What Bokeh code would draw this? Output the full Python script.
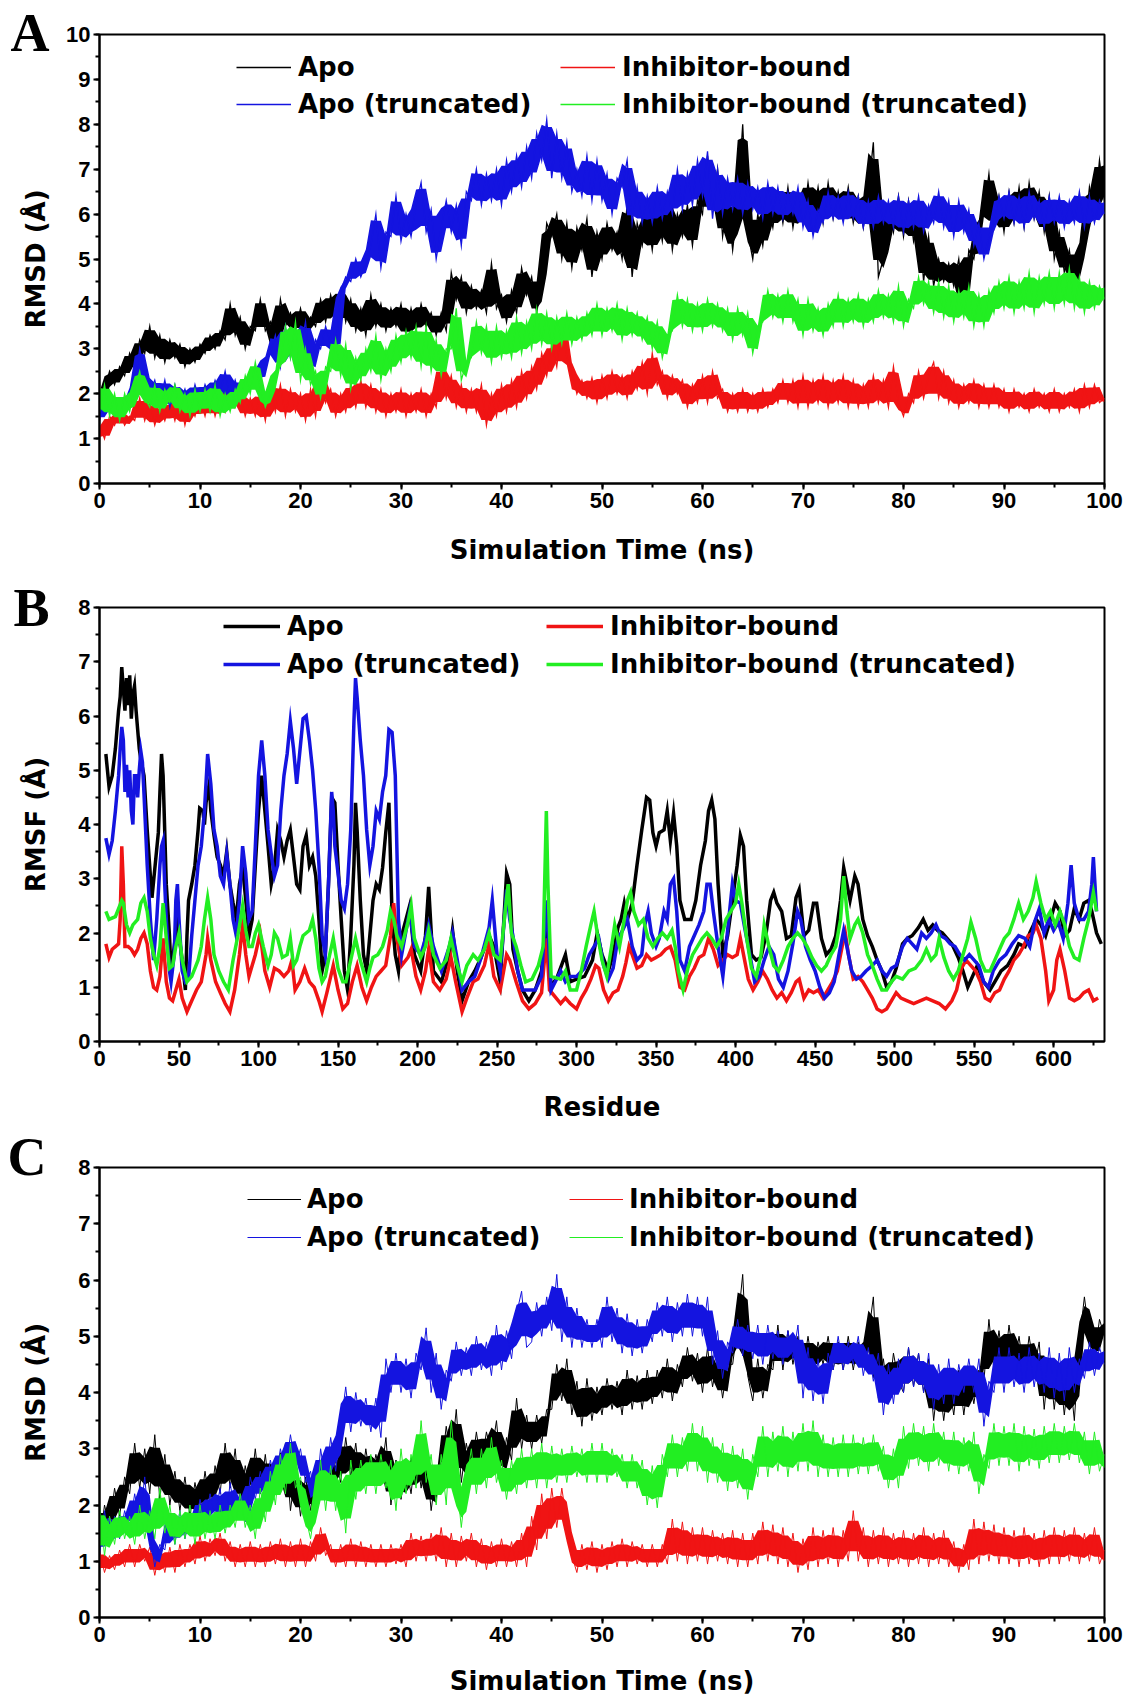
import math
import numpy as np
from bokeh.plotting import figure
from bokeh.models import Range1d, SingleIntervalTicker, Legend, LegendItem
from bokeh.core.properties import value
from bokeh.layouts import column, row
from bokeh.embed import file_html
from bokeh.resources import INLINE

# ---------------- data ----------------
time_ns = [0.5 * i for i in range(201)]

# Panel A : RMSD (all atoms)
rmsd_a_apo = [
    1.6, 2.1, 2.5, 2.2, 2.6, 2.4, 2.9, 2.6, 3.2, 2.9,
    3.5, 2.8, 3.3, 2.7, 3.2, 2.8, 3.1, 2.6, 3.0, 2.7,
    3.1, 2.9, 3.3, 3.0, 3.4, 3.2, 4.0, 3.3, 3.7, 3.0,
    3.5, 3.4, 4.1, 3.4, 3.6, 3.0, 4.1, 3.5, 3.8, 3.4,
    3.9, 3.4, 3.7, 3.5, 4.1, 3.6, 4.2, 3.7, 4.3, 3.6,
    4.1, 3.4, 3.9, 3.3, 4.2, 3.5, 4.0, 3.4, 3.9, 3.5,
    4.0, 3.3, 3.9, 3.4, 4.0, 3.5, 3.8, 3.3, 3.8, 3.4,
    4.7, 4.1, 4.6, 3.8, 4.4, 3.9, 4.3, 3.8, 4.9, 3.9,
    4.2, 3.6, 4.3, 3.8, 4.8, 4.2, 4.6, 3.8, 4.5, 5.8,
    5.5, 6.0, 5.0, 5.8, 4.8, 5.7, 5.2, 5.9, 4.6, 5.6,
    5.0, 5.8, 5.2, 5.6, 5.0, 6.2, 4.6, 5.8, 5.3, 6.0,
    5.2, 6.1, 5.4, 6.3, 5.2, 6.0, 5.5, 6.2, 5.3, 6.3,
    6.0, 7.3, 6.2, 7.0, 5.5, 6.3, 5.2, 6.2, 8.0, 5.6,
    5.0, 6.0, 5.3, 6.2, 5.7, 6.5, 5.8, 6.6, 5.7, 6.4,
    5.8, 6.7, 5.9, 6.6, 5.8, 6.7, 5.9, 6.5, 5.9, 6.6,
    5.8, 6.4, 5.7, 6.5, 7.6, 4.6, 5.0, 6.2, 5.6, 6.4,
    5.5, 6.3, 5.4, 6.0, 4.5, 5.5, 4.4, 5.0, 4.5, 4.9,
    4.4, 5.0, 3.9, 5.2, 5.0, 5.8, 6.0, 6.9, 5.7, 6.4,
    5.6, 6.5, 5.8, 6.6, 5.7, 6.7, 5.9, 6.5, 5.6, 6.4,
    5.0, 5.6, 4.7, 5.2, 4.4, 4.8, 5.5, 6.6, 6.0, 7.2,
    6.3]
rmsd_a_inh = [
    1.3, 1.0, 1.5, 1.3, 1.6, 1.3, 1.5, 1.4, 1.9, 1.4,
    1.8, 1.3, 1.7, 1.4, 1.8, 1.4, 1.9, 1.3, 1.8, 1.5,
    1.9, 1.5, 2.0, 1.5, 1.9, 1.6, 2.3, 1.7, 2.0, 1.5,
    1.9, 1.5, 2.0, 1.4, 2.1, 1.6, 2.2, 1.5, 2.1, 1.6,
    2.0, 1.4, 2.1, 1.5, 2.4, 1.8, 2.1, 1.5, 2.0, 1.6,
    2.2, 1.7, 2.3, 1.7, 2.2, 1.6, 2.1, 1.5, 2.0, 1.6,
    2.1, 1.5, 2.0, 1.6, 2.1, 1.5, 2.0, 1.7, 2.6, 1.9,
    2.4, 1.7, 2.2, 1.6, 2.1, 1.6, 2.2, 1.3, 2.0, 1.5,
    2.2, 1.6, 2.3, 1.7, 2.5, 1.9, 2.6, 2.1, 2.9, 2.4,
    3.1, 2.6, 3.6, 2.8, 2.5, 2.0, 2.3, 1.9, 2.35, 1.8,
    2.4, 1.9, 2.5, 2.0, 2.4, 1.9, 2.5, 2.1, 2.7, 2.0,
    2.9, 2.2, 2.5, 1.9, 2.4, 2.0, 2.3, 1.7, 2.2, 1.8,
    2.4, 1.8, 2.5, 1.9, 2.1, 1.6, 2.0, 1.6, 2.1, 1.6,
    2.0, 1.6, 2.1, 1.7, 2.1, 1.8, 2.3, 1.8, 2.3, 1.7,
    2.4, 1.7, 2.3, 1.8, 2.4, 1.7, 2.3, 1.8, 2.4, 1.7,
    2.3, 1.7, 2.2, 1.7, 2.4, 1.8, 2.3, 1.7, 2.6, 1.8,
    1.5, 2.0, 1.8, 2.5, 1.9, 2.4, 2.7, 1.9, 2.5, 1.8,
    2.3, 1.7, 2.2, 1.8, 2.3, 1.7, 2.2, 1.7, 2.2, 1.7,
    2.1, 1.6, 2.1, 1.7, 2.0, 1.6, 2.1, 1.7, 2.0, 1.6,
    2.1, 1.6, 2.0, 1.7, 2.1, 1.6, 2.2, 1.7, 2.2, 1.8,
    1.9]
rmsd_a_apo_t = [
    1.4, 2.0, 1.6, 1.9, 1.5, 1.9, 1.7, 2.2, 3.0, 2.4,
    2.0, 2.3, 1.8, 2.3, 1.7, 2.2, 1.8, 2.1, 1.7, 2.2,
    1.8, 2.2, 1.9, 2.3, 2.0, 2.5, 1.9, 2.3, 1.9, 2.2,
    2.1, 2.6, 2.3, 2.8, 2.9, 3.3, 2.6, 3.5, 2.8, 3.4,
    3.0, 3.6, 2.5, 3.2, 3.0, 3.5, 3.1, 2.9, 4.3, 4.6,
    4.5, 5.0, 4.6, 4.9, 5.3, 6.0, 4.8, 5.6, 5.5, 6.4,
    5.4, 6.0, 5.5, 6.2, 6.7, 5.6, 6.1, 5.0, 5.7, 6.3,
    5.6, 6.2, 5.3, 6.5, 6.3, 7.0, 6.2, 6.9, 6.3, 7.0,
    6.2, 7.2, 6.5, 7.3, 6.6, 7.5, 6.8, 7.8, 7.2, 8.1,
    6.8, 7.8, 6.8, 7.6, 6.5, 7.0, 6.4, 7.3, 6.3, 7.2,
    6.3, 6.9, 6.0, 6.8, 6.6, 7.2, 5.8, 6.6, 5.8, 6.4,
    5.8, 6.6, 5.9, 6.5, 6.0, 7.0, 6.1, 6.9, 6.2, 7.2,
    6.4, 7.4, 5.9, 7.0, 6.0, 6.8, 6.1, 6.8, 6.0, 6.7,
    6.1, 6.6, 5.9, 6.7, 6.0, 6.6, 5.9, 6.5, 6.0, 6.6,
    5.7, 6.3, 5.5, 6.1, 5.8, 6.5, 5.9, 6.4, 5.8, 6.5,
    5.9, 6.4, 5.7, 6.3, 5.7, 6.4, 5.8, 6.3, 5.7, 6.4,
    5.6, 6.3, 5.7, 6.4, 5.6, 6.2, 5.8, 6.5, 5.7, 6.3,
    5.5, 6.3, 5.6, 6.1, 5.3, 5.8, 5.0, 5.5, 5.8, 6.4,
    5.9, 6.5, 5.8, 6.4, 5.7, 6.5, 5.9, 6.3, 5.7, 6.4,
    5.8, 6.4, 5.7, 6.3, 5.8, 6.5, 5.7, 6.4, 5.8, 6.3,
    6.0]
rmsd_a_inh_t = [
    1.6, 2.2, 1.5, 2.0, 1.4, 2.0, 1.6, 2.1, 2.5, 1.9,
    1.7, 2.2, 1.6, 2.1, 1.8, 2.2, 1.6, 2.0, 1.5, 2.1,
    1.6, 2.1, 1.6, 2.2, 1.5, 2.0, 1.6, 2.1, 1.8, 2.4,
    2.0, 2.7, 2.1, 1.7, 2.0, 2.5, 2.6, 3.5, 2.8, 3.6,
    2.3, 3.0, 2.2, 2.5, 1.9, 2.6, 2.5, 3.2, 2.4, 3.1,
    2.1, 2.8, 2.3, 3.0, 2.5, 3.3, 2.3, 3.0, 2.5, 3.3,
    2.7, 3.4, 2.8, 3.5, 2.6, 3.5, 2.5, 3.2, 2.4, 3.0,
    3.0, 3.9, 2.3, 2.7, 2.8, 3.6, 2.9, 3.5, 2.7, 3.5,
    2.8, 3.4, 2.8, 3.7, 2.9, 3.6, 3.0, 3.9, 3.1, 3.8,
    3.0, 3.7, 3.1, 3.8, 3.1, 3.7, 3.2, 3.8, 3.3, 4.0,
    3.3, 3.9, 3.4, 4.0, 3.2, 3.9, 3.3, 3.8, 3.2, 3.7,
    3.0, 3.6, 2.8, 3.3, 3.4, 4.2, 3.5, 4.1, 3.4, 4.0,
    3.4, 4.1, 3.5, 4.0, 3.4, 3.9, 3.2, 3.9, 3.3, 3.8,
    2.9, 3.5, 3.6, 4.3, 3.7, 4.2, 3.6, 4.3, 3.6, 4.1,
    3.3, 4.1, 3.4, 3.9, 3.3, 4.0, 3.5, 4.2, 3.5, 4.1,
    3.6, 4.2, 3.5, 4.1, 3.6, 4.3, 3.7, 4.2, 3.6, 4.4,
    3.5, 4.1, 3.9, 4.6, 4.0, 4.5, 3.8, 4.5, 3.7, 4.4,
    3.6, 4.3, 3.7, 4.4, 3.5, 4.2, 3.5, 4.3, 3.8, 4.5,
    3.9, 4.6, 3.8, 4.5, 3.9, 4.7, 3.8, 4.6, 4.0, 4.7,
    3.9, 4.7, 4.0, 4.8, 3.9, 4.6, 3.8, 4.5, 3.9, 4.4,
    4.1]

# Panel C : RMSD (C-alpha)
rmsd_c_apo = [
    1.3, 2.0, 1.6, 2.3, 1.8, 2.5, 2.2, 3.1, 2.3, 3.0,
    2.2, 3.25, 2.1, 2.9, 2.0, 2.6, 1.9, 2.5, 1.8, 2.4,
    1.9, 2.6, 2.0, 2.7, 2.2, 3.1, 2.3, 3.0, 2.0, 2.7,
    2.2, 3.0, 2.2, 2.9, 2.1, 2.8, 2.3, 3.1, 1.9, 2.6,
    1.8, 2.5, 1.9, 2.5, 2.2, 2.9, 2.3, 2.8, 2.4, 3.2,
    2.5, 3.1, 2.3, 3.0, 2.4, 2.9, 2.5, 3.2, 2.0, 2.8,
    2.1, 2.7, 2.2, 3.0, 2.3, 2.9, 1.9, 2.6, 2.6, 3.4,
    2.8, 3.7, 2.4, 3.1, 2.6, 3.3, 2.7, 3.3, 2.9, 3.5,
    2.5, 3.2, 2.8, 3.9, 3.0, 3.6, 3.0, 3.6, 3.1, 3.7,
    3.7, 4.5, 3.85, 4.6, 3.6, 4.2, 3.4, 4.25, 3.5, 4.1,
    3.6, 4.25, 3.7, 4.2, 3.6, 4.4, 3.7, 4.3, 3.7, 4.4,
    3.8, 4.4, 3.9, 4.6, 3.85, 4.5, 4.1, 4.8, 4.2, 4.7,
    4.0, 4.8, 4.1, 4.6, 3.9, 4.5, 4.5, 5.2, 6.1, 4.3,
    3.85, 4.6, 3.9, 4.5, 4.4, 5.2, 4.4, 5.1, 4.5, 5.0,
    4.4, 5.0, 4.4, 4.9, 4.5, 5.0, 4.4, 4.9, 4.4, 5.0,
    4.4, 4.9, 4.5, 5.0, 5.7, 3.9, 4.6, 3.9, 4.7, 4.2,
    4.0, 4.8, 4.1, 4.7, 4.0, 4.6, 3.5, 4.3, 3.5, 4.2,
    3.6, 4.4, 3.6, 4.3, 3.8, 4.4, 4.2, 5.3, 4.4, 5.1,
    4.4, 5.2, 4.5, 5.0, 4.3, 5.0, 4.4, 4.9, 3.7, 4.6,
    3.7, 4.5, 3.6, 4.4, 3.5, 4.9, 5.7, 5.0, 4.6, 5.3,
    5.0]
rmsd_c_inh = [
    1.2, 0.8, 1.1, 0.85, 1.2, 0.9, 1.3, 0.9, 1.3, 1.0,
    1.25, 0.75, 1.2, 0.8, 1.25, 0.8, 1.3, 0.9, 1.3, 0.95,
    1.45, 1.0, 1.4, 1.1, 1.5, 1.0, 1.35, 0.9, 1.3, 0.9,
    1.35, 0.9, 1.3, 0.9, 1.35, 0.95, 1.4, 0.9, 1.35, 0.9,
    1.4, 0.9, 1.35, 1.0, 1.6, 1.1, 1.3, 0.9, 1.3, 0.9,
    1.4, 0.9, 1.35, 0.9, 1.3, 0.9, 1.3, 0.9, 1.3, 0.95,
    1.3, 0.9, 1.5, 1.0, 1.45, 1.0, 1.5, 1.0, 1.6, 0.9,
    1.5, 0.9, 1.45, 1.0, 1.5, 0.9, 1.4, 0.85, 1.35, 0.9,
    1.4, 0.9, 1.35, 0.9, 1.5, 0.9, 1.8, 1.2, 2.2, 1.4,
    2.3, 1.6, 2.3, 1.7, 1.1, 0.8, 1.3, 0.85, 1.35, 0.8,
    1.3, 0.85, 1.35, 0.9, 1.4, 0.9, 1.35, 0.95, 1.3, 0.9,
    1.3, 0.9, 1.3, 0.95, 1.75, 1.0, 1.7, 0.95, 1.6, 1.0,
    1.6, 0.95, 1.55, 1.0, 1.5, 0.95, 1.55, 0.9, 1.5, 0.9,
    1.5, 0.95, 1.7, 1.0, 1.65, 0.95, 1.6, 0.9, 1.5, 0.8,
    1.4, 0.85, 1.6, 0.9, 1.55, 0.95, 1.6, 0.9, 1.55, 1.0,
    1.9, 1.0, 1.6, 0.9, 1.55, 0.95, 1.6, 0.9, 1.5, 0.95,
    1.55, 0.9, 1.5, 0.95, 1.6, 0.9, 1.5, 0.95, 1.55, 0.9,
    1.35, 0.8, 1.3, 0.85, 1.75, 0.95, 1.7, 1.0, 1.65, 0.95,
    1.6, 0.95, 1.55, 0.9, 1.6, 0.95, 1.5, 0.9, 1.55, 0.95,
    1.6, 0.95, 1.55, 1.0, 1.6, 0.95, 1.5, 1.0, 1.6, 0.95,
    1.2]
rmsd_c_apo_t = [
    1.1, 1.9, 1.3, 1.8, 1.4, 1.9, 1.6, 2.2, 1.7, 2.5,
    1.5, 0.9, 1.3, 1.2, 1.8, 1.3, 1.9, 1.4, 1.8, 1.6,
    2.1, 1.7, 2.2, 1.8, 2.3, 1.6, 2.4, 1.8, 2.2, 1.7,
    2.5, 2.1, 2.6, 2.2, 2.8, 2.4, 3.0, 2.6, 3.25, 2.7,
    3.0, 2.4, 2.6, 2.0, 3.0, 2.4, 3.2, 2.6, 3.4, 4.1,
    3.3, 4.0, 3.4, 3.9, 3.3, 3.9, 3.2, 4.6, 4.0, 4.7,
    4.0, 4.6, 3.9, 4.7, 4.4, 5.15, 4.0, 4.7, 3.7, 4.4,
    4.2, 4.9, 4.3, 4.8, 4.3, 5.0, 4.4, 4.9, 4.3, 5.2,
    4.4, 5.1, 4.6, 5.4, 5.8, 4.8, 4.9, 5.6, 5.0, 5.7,
    5.1, 6.1, 4.9, 5.7, 4.8, 5.5, 4.8, 5.3, 4.8, 5.3,
    4.8, 5.7, 4.9, 5.5, 4.7, 5.4, 4.65, 5.3, 4.7, 5.3,
    4.9, 5.6, 5.0, 5.7, 4.9, 5.6, 5.0, 5.75, 5.0, 5.7,
    5.0, 5.7, 4.5, 5.1, 4.25, 4.9, 4.7, 5.3, 4.65, 5.2,
    4.6, 5.2, 4.5, 5.2, 4.6, 5.1, 4.5, 5.1, 4.6, 5.2,
    3.9, 4.8, 3.85, 4.6, 3.8, 4.7, 4.4, 5.0, 4.4, 4.9,
    4.5, 5.0, 4.3, 4.8, 4.2, 4.7, 3.6, 4.5, 3.8, 4.6,
    4.0, 4.8, 4.1, 4.7, 4.0, 4.7, 3.7, 4.5, 3.8, 4.6,
    3.8, 4.5, 4.0, 4.6, 4.0, 4.6, 3.4, 4.2, 4.0, 4.8,
    4.0, 4.8, 4.1, 4.7, 4.0, 4.8, 4.1, 4.7, 4.0, 4.8,
    3.9, 4.7, 3.85, 4.8, 4.0, 4.6, 4.25, 4.9, 4.3, 4.8,
    4.5]
rmsd_c_inh_t = [
    2.0, 1.1, 1.8, 1.3, 1.9, 1.4, 1.8, 1.3, 2.0, 1.4,
    1.9, 1.4, 2.3, 1.5, 2.0, 1.3, 1.9, 1.4, 2.0, 1.3,
    2.0, 1.4, 1.9, 1.4, 2.0, 1.5, 2.0, 1.6, 2.2, 1.6,
    2.0, 1.4, 2.3, 1.7, 2.6, 2.0, 2.9, 2.2, 3.1, 2.3,
    2.5, 1.8, 1.4, 2.0, 2.8, 1.9, 2.7, 1.9, 2.6, 1.5,
    2.8, 2.1, 2.8, 2.2, 2.9, 2.2, 2.9, 2.3, 2.8, 1.9,
    3.0, 2.2, 2.9, 2.3, 3.5, 2.4, 2.9, 2.0, 2.9, 2.0,
    3.5, 2.5, 1.6, 2.4, 3.0, 2.2, 3.0, 2.3, 3.2, 2.4,
    2.8, 2.1, 2.8, 2.2, 3.0, 2.3, 3.0, 2.3, 3.1, 2.3,
    3.05, 2.4, 3.0, 2.4, 3.05, 2.5, 3.0, 2.4, 3.1, 2.4,
    3.1, 2.4, 3.0, 2.5, 2.9, 2.3, 2.9, 2.3, 2.8, 2.0,
    2.7, 1.95, 2.9, 2.5, 3.25, 2.5, 3.2, 2.6, 3.45, 2.6,
    3.4, 2.4, 3.2, 2.4, 3.1, 2.25, 3.05, 2.3, 3.0, 2.1,
    2.9, 2.5, 3.4, 2.5, 3.3, 2.6, 3.4, 2.5, 3.3, 2.6,
    3.45, 2.6, 3.5, 2.5, 3.25, 2.5, 3.2, 2.5, 3.25, 2.5,
    3.25, 2.55, 3.2, 2.55, 3.25, 2.6, 3.05, 2.3, 3.0, 2.3,
    3.4, 2.65, 3.45, 2.7, 3.4, 2.6, 3.45, 2.7, 3.3, 2.6,
    3.3, 2.55, 3.2, 2.6, 3.3, 2.2, 2.9, 2.65, 3.45, 2.7,
    3.4, 2.7, 3.45, 2.6, 3.4, 2.7, 3.35, 2.65, 3.4, 2.75,
    3.45, 2.75, 3.4, 2.8, 3.45, 2.75, 3.3, 2.55, 3.3, 2.6,
    2.9]

# Panel B : RMSF per residue, (residue, value) pairs
rmsf_apo = [
    (4, 5.3), (6, 4.7), (8, 4.9), (10, 5.4), (12, 6.1), (13, 6.35), (14, 6.9), (15, 6.5),
    (16, 6.1), (17, 6.7), (18, 6.2), (19, 6.75), (20, 5.95), (21, 6.4), (22, 6.55), (23, 6.1),
    (24, 5.75), (25, 5.4), (26, 5.2), (28, 4.9), (30, 3.9), (32, 3.05), (33, 2.65), (35, 3.25),
    (37, 3.85), (38, 4.6), (39, 5.3), (40, 4.9), (41, 3.9), (42, 2.9), (44, 1.95), (45, 1.3),
    (47, 1.75), (49, 2.25), (50, 1.95), (52, 1.5), (54, 0.95), (55, 1.95), (56, 2.6), (58, 2.9),
    (60, 3.25), (62, 3.9), (63, 4.3), (65, 4.25), (66, 4.0), (67, 4.4), (69, 4.75), (70, 4.25),
    (72, 3.8), (74, 3.4), (76, 3.25), (78, 3.05), (80, 3.5), (82, 2.9), (84, 2.55), (86, 2.25),
    (88, 2.9), (90, 3.2), (92, 2.6), (94, 1.95), (96, 2.25), (98, 3.25), (100, 4.25), (102, 4.9),
    (104, 4.25), (106, 3.6), (108, 2.9), (110, 3.2), (112, 3.9), (114, 3.7), (116, 3.4), (118, 3.7),
    (120, 3.9), (122, 3.4), (124, 2.9), (126, 2.8), (128, 3.6), (130, 3.8), (132, 3.25), (134, 3.4),
    (136, 3.05), (138, 2.25), (140, 1.3), (142, 1.6), (144, 2.9), (146, 4.5), (148, 4.4), (150, 3.25),
    (152, 2.25), (154, 1.3), (156, 0.95), (158, 1.95), (160, 3.25), (161, 4.4), (162, 3.9), (164, 2.6),
    (166, 1.6), (168, 1.3), (170, 1.95), (172, 2.6), (174, 2.9), (176, 2.8), (178, 3.2), (180, 3.85),
    (182, 4.4), (184, 2.3), (186, 1.6), (188, 1.3), (190, 1.95), (195, 2.5), (198, 1.6), (202, 1.3),
    (205, 1.95), (207, 2.85), (210, 1.3), (215, 1.1), (220, 1.6), (222, 2.05), (225, 1.3), (228, 0.75),
    (232, 1.1), (236, 1.3), (240, 1.55), (245, 1.95), (248, 1.75), (252, 1.1), (256, 3.1), (258, 2.9),
    (260, 1.7), (263, 1.3), (266, 0.95), (270, 0.75), (274, 0.95), (278, 1.3), (281, 2.3), (284, 1.0),
    (288, 1.2), (293, 1.6), (296, 1.1), (300, 1.15), (305, 1.2), (310, 1.5), (313, 2.0), (316, 1.6),
    (320, 1.3), (323, 1.6), (326, 2.1), (328, 2.25), (330, 2.55), (332, 2.25), (335, 2.55), (338, 3.25),
    (341, 3.9), (344, 4.5), (346, 4.45), (348, 3.85), (350, 3.6), (352, 3.85), (355, 3.9), (357, 4.25),
    (359, 3.7), (361, 4.2), (363, 3.6), (365, 2.6), (368, 2.25), (372, 2.25), (375, 2.6), (378, 3.25),
    (381, 3.7), (383, 4.25), (385, 4.45), (387, 4.1), (389, 2.9), (392, 1.6), (395, 1.95), (398, 2.6),
    (401, 3.25), (403, 3.8), (405, 3.6), (407, 2.6), (410, 1.6), (413, 1.5), (416, 1.55), (419, 1.95),
    (422, 2.6), (424, 2.75), (426, 2.55), (429, 2.4), (432, 1.9), (435, 1.95), (438, 2.65), (440, 2.8),
    (443, 1.95), (446, 2.05), (449, 2.55), (451, 2.55), (454, 1.9), (457, 1.6), (460, 1.7), (463, 1.95),
    (466, 2.6), (468, 3.2), (470, 2.9), (472, 2.6), (475, 3.05), (477, 2.9), (480, 2.25), (483, 1.95),
    (486, 1.75), (489, 1.5), (492, 1.3), (495, 1.0), (498, 1.1), (501, 1.35), (505, 1.8), (508, 1.9),
    (511, 1.95), (515, 2.1), (518, 2.25), (521, 2.05), (524, 2.15), (527, 2.05), (530, 2.0), (533, 1.9),
    (536, 1.8), (540, 1.55), (543, 1.3), (546, 1.0), (549, 1.2), (552, 1.4), (556, 1.1), (560, 0.95),
    (563, 1.1), (567, 1.3), (571, 1.4), (575, 1.6), (578, 1.8), (582, 1.75), (585, 2.0), (589, 2.25),
    (592, 2.15), (595, 1.95), (598, 2.25), (601, 2.55), (604, 2.4), (607, 1.95), (610, 2.05), (613, 2.45),
    (616, 2.25), (619, 2.55), (622, 2.6), (624, 2.4), (627, 2.0), (630, 1.8)]
rmsf_inh = [
    (4, 1.8), (6, 1.55), (8, 1.7), (10, 1.75), (12, 1.8), (13, 2.25), (14, 3.6), (15, 2.9),
    (16, 1.75), (18, 1.75), (20, 1.7), (22, 1.6), (24, 1.7), (26, 1.9), (28, 2.0), (30, 1.8),
    (32, 1.3), (34, 1.0), (36, 0.95), (38, 1.2), (40, 1.9), (42, 1.1), (44, 0.8), (46, 0.75),
    (48, 0.95), (50, 1.15), (52, 0.8), (55, 0.55), (58, 0.75), (61, 0.95), (64, 1.1), (67, 1.6),
    (68, 1.9), (70, 1.5), (73, 1.1), (76, 0.9), (79, 0.7), (82, 0.55), (85, 0.95), (88, 1.6),
    (90, 2.15), (92, 1.6), (94, 1.2), (96, 1.4), (98, 1.6), (101, 2.0), (104, 1.3), (107, 1.0),
    (110, 1.35), (113, 1.3), (116, 1.2), (119, 1.3), (121, 1.5), (123, 0.95), (126, 1.1), (129, 1.35),
    (132, 1.1), (135, 1.0), (138, 0.75), (140, 0.55), (143, 0.9), (147, 1.4), (150, 0.95), (153, 0.6),
    (156, 0.7), (159, 1.1), (162, 1.4), (165, 1.0), (168, 0.75), (171, 1.0), (174, 1.2), (177, 1.3),
    (180, 1.4), (183, 1.95), (185, 2.55), (187, 1.9), (190, 1.4), (194, 1.55), (196, 1.7), (199, 1.2),
    (202, 0.95), (205, 1.3), (207, 1.7), (210, 1.1), (214, 0.95), (218, 1.15), (221, 1.55), (224, 1.1),
    (228, 0.55), (231, 0.8), (235, 1.1), (238, 1.15), (242, 1.4), (245, 1.8), (248, 1.2), (252, 0.95),
    (256, 1.6), (258, 1.5), (262, 1.1), (266, 0.75), (270, 0.6), (274, 0.7), (278, 0.9), (281, 1.9),
    (283, 0.95), (290, 0.7), (293, 0.8), (296, 0.7), (300, 0.6), (303, 0.8), (306, 0.95), (309, 1.15),
    (312, 1.4), (314, 1.35), (317, 0.95), (320, 0.75), (323, 0.9), (326, 0.95), (329, 1.2), (331, 1.45),
    (333, 1.75), (335, 1.6), (338, 1.35), (341, 1.4), (344, 1.6), (347, 1.5), (350, 1.55), (353, 1.6),
    (356, 1.7), (359, 1.75), (362, 1.5), (365, 1.0), (368, 0.95), (371, 1.2), (374, 1.35), (377, 1.55),
    (380, 1.6), (383, 1.9), (386, 1.7), (389, 1.4), (392, 1.5), (395, 1.6), (398, 1.55), (401, 1.6),
    (403, 1.9), (405, 1.6), (408, 1.15), (411, 0.95), (414, 1.1), (417, 1.3), (420, 1.15), (423, 0.95),
    (426, 0.8), (429, 0.9), (432, 0.75), (435, 0.9), (438, 1.1), (440, 1.15), (443, 0.8), (446, 0.95),
    (449, 0.9), (452, 0.95), (455, 0.8), (458, 0.95), (461, 1.1), (464, 1.3), (467, 1.75), (469, 2.0),
    (471, 1.6), (474, 1.15), (477, 1.2), (480, 1.1), (483, 0.95), (486, 0.8), (489, 0.6), (492, 0.55),
    (495, 0.6), (498, 0.75), (501, 0.9), (504, 0.8), (508, 0.75), (512, 0.7), (516, 0.75), (520, 0.8),
    (524, 0.75), (528, 0.7), (532, 0.6), (536, 0.75), (539, 0.95), (542, 1.35), (545, 1.5), (548, 1.4),
    (551, 1.3), (554, 1.1), (557, 0.8), (560, 0.75), (563, 0.9), (566, 0.95), (569, 1.15), (572, 1.3),
    (575, 1.5), (578, 1.6), (581, 1.75), (584, 1.95), (587, 2.0), (589, 2.15), (592, 1.9), (595, 1.3),
    (597, 0.75), (600, 0.95), (602, 1.5), (604, 1.7), (607, 1.3), (610, 0.8), (613, 0.75), (616, 0.8),
    (619, 0.9), (622, 0.95), (625, 0.75), (628, 0.8)]
rmsf_apo_t = [
    (4, 3.75), (6, 3.45), (8, 3.7), (10, 4.25), (12, 4.9), (13, 5.4), (14, 5.8), (15, 5.55),
    (16, 4.6), (17, 5.1), (18, 4.5), (19, 5.0), (20, 4.25), (21, 4.0), (22, 4.9), (23, 4.9),
    (24, 4.5), (25, 5.0), (26, 5.35), (27, 5.15), (28, 4.55), (30, 3.25), (32, 2.25), (34, 1.5),
    (36, 2.25), (38, 3.25), (39, 3.6), (40, 3.7), (41, 2.9), (42, 2.25), (44, 1.3), (45, 1.1),
    (47, 1.6), (48, 2.6), (49, 2.9), (50, 2.25), (52, 1.3), (54, 1.1), (56, 1.15), (58, 1.95),
    (60, 2.6), (62, 3.25), (64, 3.6), (66, 4.25), (68, 5.3), (70, 4.75), (72, 3.9), (74, 3.6),
    (76, 3.05), (78, 2.9), (80, 3.45), (82, 2.9), (84, 2.25), (86, 1.95), (88, 2.6), (90, 3.6),
    (92, 3.1), (94, 2.25), (96, 2.4), (98, 3.6), (100, 4.9), (102, 5.55), (104, 4.9), (106, 3.9),
    (108, 3.45), (110, 3.05), (112, 3.25), (114, 4.25), (116, 4.9), (118, 5.3), (120, 5.9), (122, 5.4),
    (124, 4.75), (126, 5.35), (128, 5.95), (130, 6.0), (132, 5.55), (134, 5.0), (136, 4.25), (138, 3.25),
    (140, 1.95), (142, 1.6), (144, 2.9), (146, 4.6), (147, 4.25), (148, 3.6), (150, 3.1), (152, 2.6),
    (154, 2.45), (156, 2.9), (158, 3.9), (160, 5.9), (161, 6.7), (162, 6.35), (164, 5.55), (166, 4.9),
    (168, 3.9), (170, 3.25), (172, 3.6), (174, 4.25), (176, 4.1), (178, 4.6), (180, 4.9), (182, 5.75),
    (184, 5.7), (186, 4.9), (188, 2.25), (190, 1.6), (195, 2.4), (198, 1.75), (202, 1.6), (205, 1.9),
    (207, 2.15), (210, 1.75), (215, 1.3), (220, 1.75), (222, 2.0), (225, 1.5), (228, 0.95), (232, 1.1),
    (236, 1.2), (240, 1.55), (245, 2.1), (247, 2.6), (250, 1.6), (252, 1.3), (256, 2.8), (258, 2.25),
    (260, 1.95), (263, 1.3), (266, 0.95), (270, 0.95), (274, 0.95), (278, 1.2), (281, 2.6), (284, 0.95),
    (290, 1.3), (293, 1.1), (296, 1.2), (300, 1.2), (305, 1.35), (308, 1.6), (311, 1.75), (314, 1.9),
    (317, 1.4), (320, 1.15), (323, 1.35), (326, 1.9), (329, 2.05), (332, 2.25), (335, 1.75), (338, 1.5),
    (341, 1.6), (343, 2.15), (345, 2.4), (347, 2.0), (350, 1.75), (352, 1.9), (355, 2.4), (357, 2.25),
    (359, 2.9), (361, 3.0), (363, 2.4), (365, 1.5), (368, 1.3), (371, 1.75), (374, 1.95), (377, 2.15),
    (380, 2.4), (382, 2.9), (384, 2.9), (386, 2.4), (389, 1.75), (392, 1.2), (395, 2.05), (398, 2.9),
    (400, 2.6), (403, 2.55), (406, 2.05), (409, 1.6), (412, 1.1), (415, 1.2), (418, 1.5), (421, 1.75),
    (424, 1.6), (427, 1.15), (430, 1.0), (433, 1.3), (436, 1.8), (439, 2.4), (441, 2.25), (444, 1.75),
    (447, 1.5), (450, 1.3), (453, 1.0), (456, 0.8), (459, 0.9), (462, 1.1), (465, 1.6), (468, 2.05),
    (470, 1.75), (473, 1.3), (476, 1.15), (479, 1.2), (482, 1.3), (486, 1.4), (489, 1.5), (492, 1.3),
    (495, 1.2), (498, 1.35), (501, 1.4), (505, 1.75), (508, 1.9), (511, 1.8), (514, 1.7), (517, 2.0),
    (520, 1.9), (523, 2.0), (526, 2.15), (529, 1.95), (532, 1.9), (535, 1.8), (538, 1.75), (541, 1.6),
    (544, 1.5), (547, 1.6), (550, 1.5), (553, 1.4), (556, 1.1), (559, 1.0), (562, 1.3), (566, 1.5),
    (570, 1.6), (574, 1.8), (578, 1.95), (582, 1.9), (585, 1.75), (588, 2.2), (591, 2.45), (594, 2.0),
    (597, 2.25), (600, 2.05), (603, 2.2), (606, 1.9), (609, 2.55), (611, 3.25), (613, 2.55), (616, 2.25),
    (619, 2.25), (622, 2.4), (624, 2.9), (625, 3.4), (627, 2.4)]
rmsf_inh_t = [
    (4, 2.4), (6, 2.25), (10, 2.3), (12, 2.45), (14, 2.6), (15, 2.55), (17, 2.15), (19, 2.0),
    (21, 2.15), (24, 2.25), (26, 2.55), (28, 2.65), (30, 2.4), (32, 1.9), (34, 1.6), (36, 1.4),
    (38, 1.75), (40, 2.55), (42, 1.9), (44, 1.35), (46, 1.4), (48, 1.75), (50, 2.0), (52, 1.5),
    (55, 1.1), (58, 1.2), (60, 1.35), (62, 1.5), (64, 1.75), (66, 2.25), (68, 2.65), (70, 2.25),
    (72, 1.6), (75, 1.3), (78, 1.1), (81, 0.95), (84, 1.5), (87, 1.95), (90, 2.5), (92, 2.05),
    (94, 1.75), (96, 1.75), (98, 2.0), (100, 2.15), (103, 1.75), (106, 1.4), (108, 1.6), (110, 2.0),
    (112, 1.9), (115, 1.55), (118, 1.6), (120, 1.9), (122, 1.4), (124, 1.5), (126, 1.75), (128, 1.95),
    (130, 2.0), (132, 2.05), (134, 2.25), (136, 1.9), (138, 1.35), (140, 1.1), (142, 1.2), (144, 1.5),
    (147, 1.9), (150, 1.35), (153, 1.1), (155, 1.1), (158, 1.5), (161, 1.9), (164, 1.5), (166, 1.3),
    (168, 1.1), (170, 1.35), (172, 1.55), (175, 1.6), (178, 1.75), (181, 2.05), (183, 2.4), (185, 2.25),
    (187, 1.95), (190, 1.75), (194, 2.2), (196, 2.5), (198, 1.9), (202, 1.55), (205, 1.75), (207, 2.05),
    (210, 1.6), (214, 1.35), (218, 1.5), (221, 1.9), (224, 1.5), (228, 1.1), (231, 1.4), (235, 1.6),
    (238, 1.5), (242, 1.7), (245, 2.0), (248, 1.6), (252, 1.5), (256, 2.65), (257, 2.9), (259, 2.0),
    (262, 1.75), (265, 1.4), (268, 1.1), (272, 1.15), (276, 1.4), (279, 1.75), (281, 4.25), (282, 2.9),
    (284, 1.2), (290, 1.15), (293, 1.3), (296, 0.95), (300, 0.95), (303, 1.3), (306, 1.75), (309, 2.15),
    (311, 2.4), (313, 2.0), (316, 1.5), (319, 1.2), (322, 1.75), (324, 2.15), (327, 1.75), (330, 2.25),
    (332, 2.6), (334, 2.75), (336, 2.4), (339, 2.15), (342, 2.25), (345, 1.9), (348, 1.75), (351, 1.9),
    (354, 2.0), (357, 1.9), (360, 2.05), (362, 1.75), (364, 1.3), (367, 0.95), (370, 1.35), (373, 1.6),
    (376, 1.75), (379, 1.9), (382, 2.0), (385, 1.9), (388, 1.75), (391, 1.9), (394, 2.25), (397, 2.4),
    (400, 2.55), (402, 2.9), (404, 2.55), (407, 1.9), (410, 1.35), (413, 1.2), (416, 1.6), (418, 2.15),
    (421, 1.75), (424, 1.4), (427, 1.3), (430, 1.5), (433, 1.75), (436, 1.9), (439, 2.0), (442, 1.9),
    (445, 1.75), (448, 1.55), (451, 1.4), (454, 1.3), (457, 1.4), (460, 1.6), (463, 1.75), (466, 2.25),
    (468, 3.05), (470, 2.4), (472, 1.9), (475, 2.15), (477, 2.25), (480, 2.0), (483, 1.6), (486, 1.4),
    (489, 1.15), (492, 0.95), (495, 0.95), (498, 1.1), (501, 1.2), (505, 1.15), (509, 1.3), (513, 1.35),
    (517, 1.5), (520, 1.7), (523, 1.5), (526, 1.6), (528, 1.9), (531, 1.55), (534, 1.3), (537, 1.15),
    (540, 1.3), (543, 1.6), (546, 1.9), (548, 2.2), (551, 1.9), (554, 1.5), (557, 1.3), (560, 1.3),
    (563, 1.5), (566, 1.7), (569, 1.9), (572, 2.0), (575, 2.25), (578, 2.55), (581, 2.25), (584, 2.4),
    (587, 2.65), (589, 2.95), (592, 2.55), (595, 2.25), (598, 2.4), (601, 2.15), (604, 2.4), (607, 2.15),
    (610, 1.75), (613, 1.55), (616, 1.5), (619, 1.9), (622, 2.25), (625, 2.75), (627, 2.4)]

series_names = ["Apo", "Inhibitor-bound", "Apo (truncated)", "Inhibitor-bound (truncated)"]
series_colors = ["#000000", "#F01414", "#1414E0", "#22EE22"]

# ---------------- styling helpers ----------------
TICK_FONT = "Liberation Sans"
TITLE_FONT = "DejaVu Sans"
SIDE_W = 62          # width of the strip holding the panel letter and y title
FULL_W = 1127


def style_axis(ax, label, interval, standoff):
    ax.ticker = SingleIntervalTicker(interval=interval, num_minor_ticks=2)
    ax.axis_label = label
    ax.axis_label_text_font = TITLE_FONT
    ax.axis_label_text_font_style = "bold"
    ax.axis_label_text_font_size = "26px"
    ax.axis_label_text_color = "black"
    ax.axis_label_standoff = standoff
    ax.major_label_text_font = TICK_FONT
    ax.major_label_text_font_style = "bold"
    ax.major_label_text_font_size = "22px"
    ax.major_label_text_color = "black"
    ax.major_label_standoff = 3
    ax.axis_line_width = 2
    ax.axis_line_color = "black"
    ax.major_tick_in = 0
    ax.major_tick_out = 6
    ax.minor_tick_in = 0
    ax.minor_tick_out = 4
    ax.major_tick_line_width = 2
    ax.minor_tick_line_width = 2
    ax.major_tick_line_color = "black"
    ax.minor_tick_line_color = "black"


def local_envelope(vals, frac):
    """Central part of the band spanned by each reading and its two neighbours."""
    y = np.asarray(vals, dtype=float)
    left = np.concatenate([y[:1], y[:-1]])
    right = np.concatenate([y[1:], y[-1:]])
    stack = np.vstack([left, y, right])
    lo, hi = stack.min(axis=0), stack.max(axis=0)
    mid = 0.5 * (lo + hi)
    return mid - frac * (mid - lo), mid + frac * (hi - mid)


def side_strip(height, title_center, letter, letter_x, letter_mid, ytitle):
    """Left strip (outside the frame) with the panel letter and the rotated y title.
    Coordinates are canvas pixels of this strip, measured from its top edge."""
    s = figure(width=SIDE_W, height=height, output_backend="svg", toolbar_location=None,
               x_range=Range1d(0, SIDE_W), y_range=Range1d(height, 0),
               x_axis_location=None, y_axis_location=None, min_border=0,
               frame_align=False)
    s.outline_line_color = None
    s.xgrid.visible = False
    s.ygrid.visible = False
    s.background_fill_color = "white"
    s.border_fill_color = "white"
    s.text(x=[letter_x], y=[letter_mid], text=[letter],
           text_font=value("Liberation Serif"), text_font_style="bold",
           text_font_size="54px", text_color="black",
           text_align="left", text_baseline="middle")
    s.text(x=[35], y=[title_center], text=[ytitle],
           angle=math.pi / 2, text_font=value(TITLE_FONT), text_font_style="bold",
           text_font_size="26px", text_color="black",
           text_align="center", text_baseline="middle")
    return s


def make_panel(height, top, bottom, x_end, y_end, x_interval, xlabel, ylabel, xstand,
               xs_list, ys_list, lw, noisy, frac, leg, letter):
    p = figure(width=FULL_W - SIDE_W, height=height, output_backend="svg",
               toolbar_location=None,
               x_range=Range1d(0, x_end), y_range=Range1d(0, y_end),
               min_border_left=99 - SIDE_W, min_border_right=23,
               min_border_top=top, min_border_bottom=bottom, frame_align=False)
    p.xgrid.visible = False
    p.ygrid.visible = False
    p.outline_line_color = "black"
    p.outline_line_width = 2
    p.background_fill_color = "white"
    p.border_fill_color = "white"
    style_axis(p.xaxis[0], xlabel, x_interval, xstand)
    style_axis(p.yaxis[0], None, 1, 0)

    rends = []
    for xs, ys, c in zip(xs_list, ys_list, series_colors):
        if noisy:
            lo, hi = local_envelope(ys, frac)
            p.varea(x=xs, y1=lo, y2=hi, fill_color=c, fill_alpha=1.0)
        rends.append(p.line(xs, ys, line_color=c, line_width=lw, line_join="miter"))

    col_x, glyph_w, standoff, spacing, y_bottom = leg
    for ci, idx in enumerate([(0, 2), (1, 3)]):
        items = [LegendItem(label=series_names[i], renderers=[rends[i]]) for i in idx]
        lg = Legend(items=items, location=(col_x[ci], y_bottom),
                    label_text_font=TITLE_FONT, label_text_font_style="bold",
                    label_text_font_size="26px", label_text_color="black",
                    glyph_width=glyph_w, glyph_height=30, label_height=30,
                    label_standoff=standoff, spacing=spacing,
                    padding=0, margin=0, border_line_alpha=0, background_fill_alpha=0)
        p.add_layout(lg)

    frame_h = height - top - bottom
    text, lx, lmid = letter
    s = side_strip(height, top + frame_h / 2.0, text, lx, lmid, ylabel)
    return row(s, p, spacing=0)


# Panel A  (canvas rows 0 .. 568)
rowA = make_panel(568, 34, 85, 100, 10, 10, "Simulation Time (ns)", "RMSD (Å)", 24,
                  [time_ns] * 4, [rmsd_a_apo, rmsd_a_inh, rmsd_a_apo_t, rmsd_a_inh_t],
                  1.3, True, 0.75, ([137, 461], 55, 7, 7, 364), ("A", 10, 32))

# Panel B  (canvas rows 568 .. 1125)
b_series = [rmsf_apo, rmsf_inh, rmsf_apo_t, rmsf_inh_t]
b_x = [[r for r, v in s] for s in b_series]
b_y = [[v for r, v in s] for s in b_series]
rowB = make_panel(557, 39, 84, 632, 8, 50, "Residue", "RMSF (Å)", 23,
                  b_x, b_y, 3.5, False, 0.0, ([124, 447], 57, 7, 8, 362), ("B", 13, 39))

# Panel C  (canvas rows 1125 .. 1699)
rowC = make_panel(574, 42, 82, 100, 8, 10, "Simulation Time (ns)", "RMSD (Å)", 21,
                  [time_ns] * 4, [rmsd_c_apo, rmsd_c_inh, rmsd_c_apo_t, rmsd_c_inh_t],
                  1.0, True, 0.6, ([148, 470], 54, 6, 8, 365), ("C", 7, 31))

layout = column(rowA, rowB, rowC, spacing=0)
open("out.html", "w").write(file_html(layout, INLINE))
